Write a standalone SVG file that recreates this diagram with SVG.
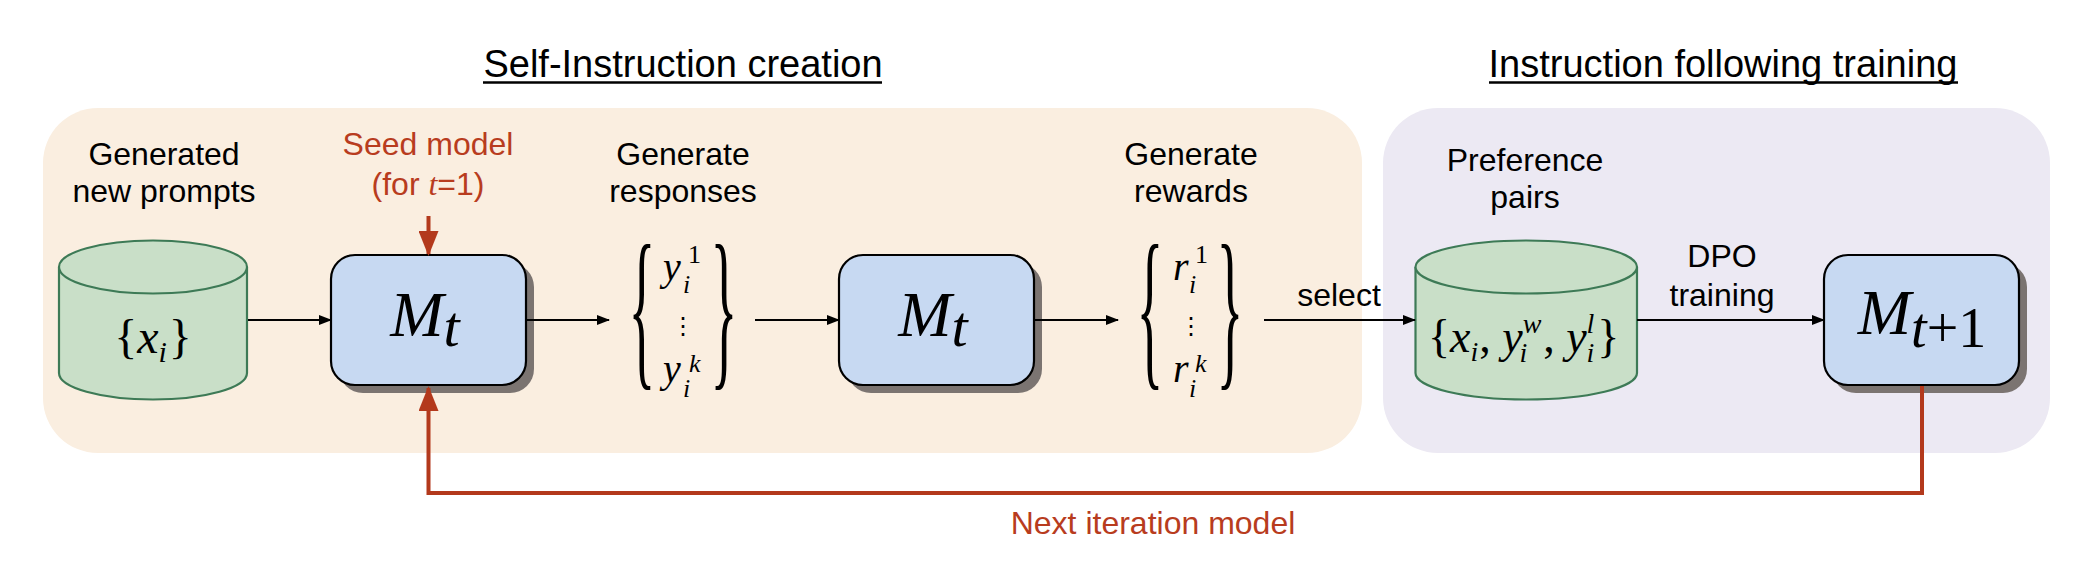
<svg xmlns="http://www.w3.org/2000/svg" width="2094" height="572" viewBox="0 0 2094 572">
<style>
.lbl{font-family:"Liberation Sans",Arial,sans-serif;font-size:32px;fill:#000;text-anchor:middle}
.red{fill:#b83c1e}
.title{font-family:"Liberation Sans",Arial,sans-serif;font-size:38px;fill:#000;text-anchor:middle}
.math{font-family:"Liberation Serif","Times New Roman",serif;font-style:italic;fill:#000}
.rm{font-style:normal}
.brace{font-family:"Liberation Serif","Times New Roman",serif;font-size:175px;fill:#000;text-anchor:middle}
.cyl{fill:#c9dfc8;stroke:#3d7a56;stroke-width:2.2}
.box{fill:#c7d9f2;stroke:#000;stroke-width:2.2}
.shadow{fill:#7b7471}
.conn{stroke:#000;stroke-width:2;fill:none}
.rconn{stroke:#b3391c;stroke-width:4;fill:none}
</style>
<defs>
<marker id="ab" markerWidth="13" markerHeight="10" refX="12" refY="5" orient="auto" markerUnits="userSpaceOnUse"><path d="M0,0 L13,5 L0,10 z" fill="#000"/></marker>
<marker id="ar" markerWidth="25" markerHeight="20" refX="23" refY="10" orient="auto" markerUnits="userSpaceOnUse"><path d="M0,0 L25,10 L0,20 z" fill="#b3391c"/></marker>
</defs>

<g id="backgrounds">
<rect x="43" y="108" width="1319" height="345" rx="55" ry="55" fill="#faeee0"/>
<rect x="1383" y="108" width="667" height="345" rx="55" ry="55" fill="#ece9f3"/>
</g>

<g id="titles">
<text class="title" x="683" y="77">Self-Instruction creation</text>
<line x1="483" y1="82.5" x2="882" y2="82.5" stroke="#000" stroke-width="2.6"/>
<text class="title" x="1723" y="77">Instruction following training</text>
<line x1="1489" y1="82.5" x2="1958" y2="82.5" stroke="#000" stroke-width="2.6"/>
</g>

<g id="prompts">
<text class="lbl" x="164" y="165">Generated</text>
<text class="lbl" x="164" y="202">new prompts</text>
<path class="cyl" d="M59,267 V373 A94,26.5 0 0 0 247,373 V267 A94,26.5 0 0 0 59,267 Z"/>
<path class="cyl" d="M59,267 A94,26.5 0 0 0 247,267" fill="none"/>
<text class="math" x="153" y="353" font-size="48" text-anchor="middle"><tspan class="rm">{</tspan>x<tspan font-size="30" dy="9">i</tspan><tspan class="rm" dx="2" dy="-9">}</tspan></text>
</g>

<g id="seed">
<text class="lbl red" x="428" y="155">Seed model</text>
<text class="lbl red" x="428" y="195" font-size="24">(for <tspan font-family="Liberation Serif,serif" font-style="italic">t</tspan>=1)</text>
</g>

<g id="model1">
<rect class="shadow" x="339" y="263" width="195" height="130" rx="24"/>
<rect class="box" x="331" y="255" width="195" height="130" rx="24"/>
<text class="math" x="425" y="336" font-size="64" text-anchor="middle">M<tspan font-size="58" dy="10">t</tspan></text>
</g>

<g id="responses">
<text class="lbl" x="683" y="165">Generate</text>
<text class="lbl" x="683" y="202">responses</text>
<text class="brace" transform="translate(642,366) scale(0.32,1)" x="0" y="0">{</text>
<text class="brace" transform="translate(724,366) scale(0.32,1)" x="0" y="0">}</text>
<text class="math" x="663" y="280" font-size="40">y</text>
<text class="math rm" x="688" y="263" font-size="26">1</text>
<text class="math" x="683" y="293" font-size="26">i</text>
<text class="math rm" x="683" y="334" font-size="24" text-anchor="middle" font-family="DejaVu Serif,serif">⋮</text>
<text class="math" x="663" y="382" font-size="40">y</text>
<text class="math" x="689" y="372" font-size="26">k</text>
<text class="math" x="683" y="397" font-size="26">i</text>
</g>

<g id="model2">
<rect class="shadow" x="847" y="263" width="195" height="130" rx="24"/>
<rect class="box" x="839" y="255" width="195" height="130" rx="24"/>
<text class="math" x="933" y="336" font-size="64" text-anchor="middle">M<tspan font-size="58" dy="10">t</tspan></text>
</g>

<g id="rewards">
<text class="lbl" x="1191" y="165">Generate</text>
<text class="lbl" x="1191" y="202">rewards</text>
<text class="brace" transform="translate(1150,366) scale(0.32,1)" x="0" y="0">{</text>
<text class="brace" transform="translate(1230,366) scale(0.32,1)" x="0" y="0">}</text>
<text class="math" x="1173" y="280" font-size="40">r</text>
<text class="math rm" x="1195" y="263" font-size="26">1</text>
<text class="math" x="1189" y="293" font-size="26">i</text>
<text class="math rm" x="1191" y="334" font-size="24" text-anchor="middle" font-family="DejaVu Serif,serif">⋮</text>
<text class="math" x="1173" y="382" font-size="40">r</text>
<text class="math" x="1195" y="372" font-size="26">k</text>
<text class="math" x="1189" y="397" font-size="26">i</text>
</g>

<g id="pairs">
<text class="lbl" x="1525" y="171">Preference</text>
<text class="lbl" x="1525" y="208">pairs</text>
<path class="cyl" d="M1415.5,267 V373 A110.75,26.5 0 0 0 1637,373 V267 A110.75,26.5 0 0 0 1415.5,267 Z"/>
<path class="cyl" d="M1415.5,267 A110.75,26.5 0 0 0 1637,267" fill="none"/>
<text class="math" x="1428" y="352" font-size="46"><tspan class="rm">{</tspan>x<tspan font-size="28" dy="9">i</tspan><tspan class="rm" dx="1" dy="-9">, </tspan>y<tspan font-size="28" dy="-19">w</tspan><tspan font-size="28" dx="-22" dy="29">i</tspan><tspan class="rm" dx="16" dy="-10">, </tspan>y<tspan font-size="28" dy="-19">l</tspan><tspan font-size="28" dx="-8" dy="29">i</tspan><tspan class="rm" dx="3" dy="-10">}</tspan></text>
</g>

<g id="model3">
<rect class="shadow" x="1832" y="263" width="195" height="130" rx="24"/>
<rect class="box" x="1824" y="255" width="195" height="130" rx="24"/>
<text class="math" x="1922" y="334" font-size="64" text-anchor="middle">M<tspan font-size="56" dy="13">t</tspan><tspan class="rm" font-size="56">+1</tspan></text>
</g>

<g id="connectors">
<line class="conn" x1="248" y1="320" x2="331" y2="320" marker-end="url(#ab)"/>
<line class="conn" x1="526" y1="320" x2="609" y2="320" marker-end="url(#ab)"/>
<line class="conn" x1="755" y1="320" x2="839" y2="320" marker-end="url(#ab)"/>
<line class="conn" x1="1034" y1="320" x2="1118" y2="320" marker-end="url(#ab)"/>
<line class="conn" x1="1264" y1="320" x2="1415" y2="320" marker-end="url(#ab)"/>
<line class="conn" x1="1637" y1="320" x2="1824" y2="320" marker-end="url(#ab)"/>
<line class="rconn" x1="428.5" y1="216" x2="428.5" y2="254" marker-end="url(#ar)"/>
<path class="rconn" d="M1922,386 V493 H428.5 V388" marker-end="url(#ar)"/>
<text class="lbl" x="1339" y="306">select</text>
<text class="lbl" x="1722" y="267">DPO</text>
<text class="lbl" x="1722" y="306">training</text>
<text class="lbl red" x="1153" y="534">Next iteration model</text>
</g>
</svg>
